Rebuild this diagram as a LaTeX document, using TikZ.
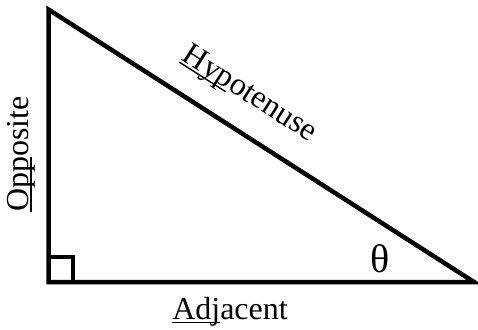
\documentclass[tikz,border=0pt]{standalone}
\usepackage{fontspec}
\setmainfont{Liberation Serif}
\usetikzlibrary{calc}
\newcommand{\ulword}[1]{\setbox0\hbox{#1}\rlap{\rule[-3.5pt]{\wd0}{1.4pt}}\box0}

\begin{document}
\begin{tikzpicture}[
  x=1pt,y=-1pt,
  side/.style={draw=black,line width=4.5pt,line join=miter},
  rightangle/.style={draw=black,line width=3.5pt},
  lbl/.style={font=\fontsize{32}{36}\selectfont,inner sep=0pt}
]
\useasboundingbox (0,0) rectangle (478,329);
\coordinate (top) at (48.5,9.5);
\coordinate (corner) at (48.5,282);
\coordinate (tip) at (474,282);
\draw[side] (top) -- (corner) -- (tip) -- cycle;
\draw[rightangle] (48.5,257) -- (73,257) -- (73,282);
\node[lbl,rotate=-32.6] (hyp) at (249,95) {\ulword{Hyp}otenuse};
\node[lbl,rotate=90] (opp) at (21,154) {\ulword{Opp}osite};
\node[lbl] (adj) at (230,312) {\ulword{Adj}acent};
\node[lbl,font=\fontsize{40}{44}\selectfont] (theta) at (380,259) {θ};
\end{tikzpicture}
\end{document}
